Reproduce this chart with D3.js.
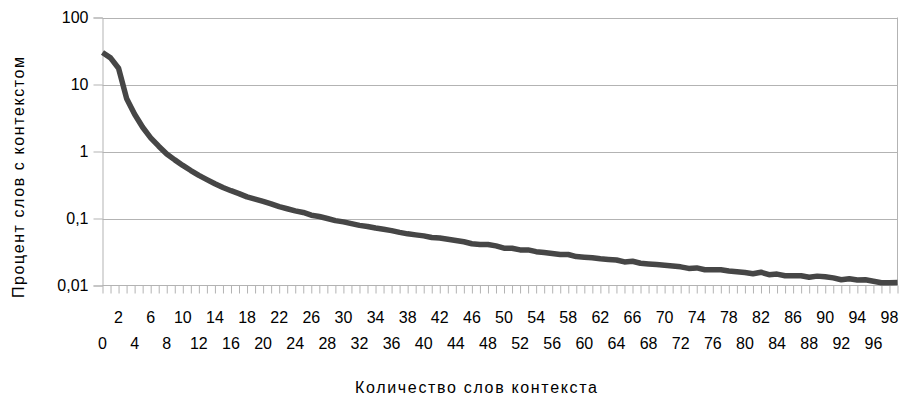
<!DOCTYPE html>
<html>
<head>
<meta charset="utf-8">
<script src="https://cdn.jsdelivr.net/npm/d3@7"></script>
<style>
  html, body { margin: 0; padding: 0; background: #fff; }
  svg { display: block; }
  text { font-family: "Liberation Sans", Arial, sans-serif; fill: #000; }
</style>
</head>
<body>
<svg id="chart" width="901" height="396"></svg>
<script>
const categories = d3.range(0, 100).map(String);
const values = [
  30, 25, 17.5, 6.2, 3.6, 2.3, 1.6, 1.2, 0.92, 0.75,
  0.62, 0.52, 0.44, 0.38, 0.33, 0.29, 0.26, 0.235, 0.21, 0.195,
  0.18, 0.165, 0.15, 0.14, 0.13, 0.123, 0.112, 0.107, 0.1, 0.093,
  0.089, 0.084, 0.079, 0.076, 0.072, 0.069, 0.066, 0.062, 0.059, 0.057,
  0.055, 0.052, 0.051, 0.049, 0.047, 0.045, 0.042, 0.041, 0.041, 0.039,
  0.036, 0.036, 0.034, 0.034, 0.032, 0.031, 0.030, 0.029, 0.029, 0.027,
  0.0265, 0.026, 0.025, 0.0245, 0.024, 0.0225, 0.023, 0.0215, 0.021, 0.0205,
  0.020, 0.0196, 0.019, 0.018, 0.0183, 0.0172, 0.0172, 0.0172, 0.0165, 0.016,
  0.0156, 0.015, 0.0158, 0.0145, 0.0148, 0.014, 0.014, 0.014, 0.0133, 0.0138,
  0.0135, 0.013, 0.0122, 0.0126, 0.0121, 0.0122, 0.0116, 0.011, 0.011, 0.0111
];
const yTickValues = [0.01, 0.1, 1, 10, 100];
const yTickLabels = ["0,01", "0,1", "1", "10", "100"];
const xTitle = "Количество слов контекста";
const yTitle = "Процент слов с контекстом";

(function () {
const svg = d3.select("#chart");
const pLeft = 102.5, pRight = 897.5, pTop = 17.5, pBottom = 285.5;

const x = d3.scalePoint().domain(categories).range([pLeft, pRight]);
const y = d3.scaleLog().domain([0.01, 100]).range([pBottom, pTop]);

const gridColor = "#b3b3b3";

// horizontal gridlines
svg.append("g").selectAll("line").data(yTickValues.slice(1)).join("line")
  .attr("x1", pLeft).attr("x2", pRight)
  .attr("y1", d => Math.round(y(d)) + 0.5).attr("y2", d => Math.round(y(d)) + 0.5)
  .attr("stroke", gridColor).attr("stroke-width", 1);

// right border
svg.append("line").attr("x1", pRight).attr("x2", pRight).attr("y1", pTop).attr("y2", pBottom)
  .attr("stroke", gridColor);

// y axis
const yAxis = d3.axisLeft(y).tickValues(yTickValues)
  .tickFormat((d, i) => yTickLabels[i]).tickSize(9).tickPadding(5);
const gy = svg.append("g").attr("transform", `translate(${pLeft},0)`).call(yAxis);
gy.select(".domain").attr("stroke", gridColor);
gy.selectAll(".tick line").attr("stroke", gridColor);
gy.selectAll(".tick text").attr("font-size", 16).attr("font-family", "Liberation Sans, Arial, sans-serif").attr("fill", "#000");

// x axis with ticks at each category
const xAxis = d3.axisBottom(x).tickSize(8).tickFormat("");
const gx = svg.append("g").attr("transform", `translate(0,${pBottom})`).call(xAxis);
gx.select(".domain").attr("stroke", gridColor).attr("d", `M${pLeft},0H${pRight}`);
gx.selectAll(".tick line").attr("stroke", gridColor);

// staggered labels for even categories
const evens = categories.filter((c, i) => i % 2 === 0 && i <= 98);
svg.append("g").selectAll("text").data(evens).join("text")
  .attr("x", d => x(d))
  .attr("y", d => (+d % 4 === 2) ? 323 : 349)
  .attr("text-anchor", "middle")
  .attr("font-size", 16)
  .text(d => d);

// line
const line = d3.line().x((d, i) => x(categories[i])).y(d => y(d));
svg.append("path").datum(values)
  .attr("d", line)
  .attr("fill", "none")
  .attr("stroke", "#464646")
  .attr("stroke-width", 5.5)
  .attr("stroke-linejoin", "round");

// axis titles
svg.append("text").attr("x", 476).attr("y", 393).attr("text-anchor", "middle")
  .attr("font-size", 16).attr("textLength", 242).attr("lengthAdjust", "spacing").text(xTitle);
svg.append("text").attr("transform", "translate(24,177.5) rotate(-90)")
  .attr("text-anchor", "middle").attr("font-size", 16)
  .attr("textLength", 241).attr("lengthAdjust", "spacing").text(yTitle);
})();
</script>
</body>
</html>
